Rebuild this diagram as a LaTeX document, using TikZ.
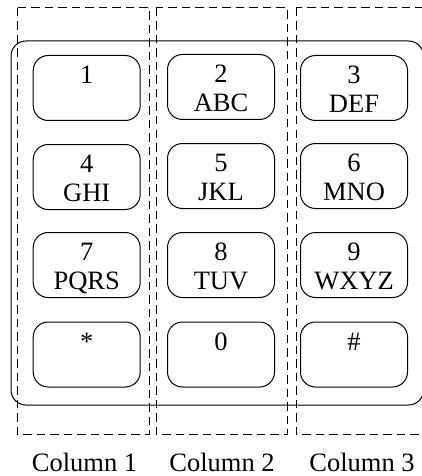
\documentclass[tikz,border=0pt]{standalone}
\usepackage{fontspec}
\setmainfont{Liberation Serif}
\begin{document}
\begin{tikzpicture}[x=1pt,y=-1pt,
  every node/.style={font=\fontsize{26.5}{29}\selectfont},
  colbox/.style={draw=black, line width=1pt, dash pattern=on 8.5pt off 5pt},
  padframe/.style={draw=black, line width=1pt, rounded corners=15pt},
  keybox/.style={draw=black, line width=1pt, rounded corners=15pt,
    inner sep=0pt, text width=107pt, align=center,
    text height=28pt, text depth=37pt},
  collabel/.style={anchor=base, inner sep=0pt}]
\useasboundingbox (0,0) rectangle (422,476);
\clip (0,0) rectangle (422,476);

% dashed column groups
\draw[colbox] (17,8) rectangle (149,434);
\draw[colbox] (156,8) rectangle (287,434);
\draw[colbox] (296,8) rectangle (440,434);

% keypad frame
\draw[padframe] (11,41) rectangle (423.5,405);

% keys
\node[keybox] (k1) at (86.7,88) {1};
\node[keybox] (k2) at (221,87) {2\\ABC};
\node[keybox] (k3) at (354,88) {3\\DEF};
\node[keybox] (k4) at (86.7,177) {4\\GHI};
\node[keybox] (k5) at (221,176) {5\\JKL};
\node[keybox] (k6) at (354,176) {6\\MNO};
\node[keybox] (k7) at (86.7,265) {7\\PQRS};
\node[keybox] (k8) at (221,265) {8\\TUV};
\node[keybox] (k9) at (354,265) {9\\WXYZ};
\node[keybox] (kstar) at (86.7,354.5) {*};
\node[keybox] (k0) at (221,354.5) {0};
\node[keybox] (khash) at (354,354.5) {\#};

% column captions
\node[collabel] (c1) at (84.5,471) {Column 1};
\node[collabel] (c2) at (222,471) {Column 2};
\node[collabel] (c3) at (362,471) {Column 3};
\end{tikzpicture}
\end{document}
